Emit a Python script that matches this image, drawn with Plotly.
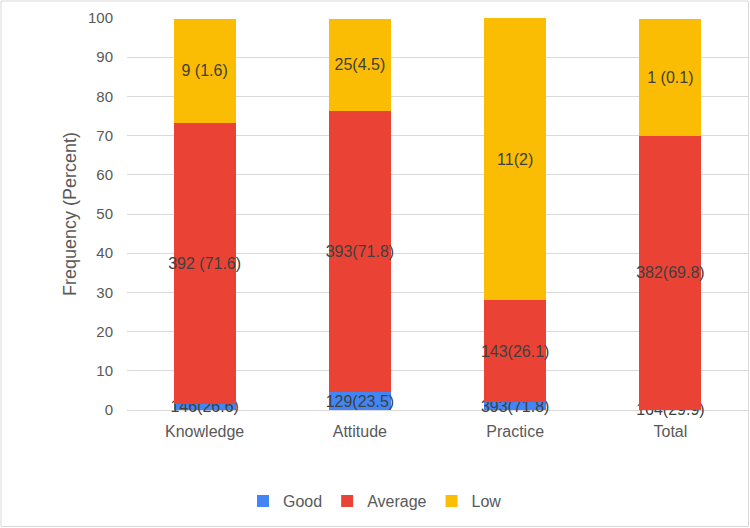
import plotly.graph_objects as go

categories = ["Knowledge", "Attitude", "Practice", "Total"]
good_values = [1.6, 4.5, 2.0, 0.1]
average_values = [71.6, 71.8, 26.1, 69.8]
low_values = [26.6, 23.5, 71.8, 29.9]
good_labels = ["146(26.6)", "129(23.5)", "393(71.8)", "164(29.9)"]
average_labels = ["392 (71.6)", "393(71.8)", "143(26.1)", "382(69.8)"]
low_labels = ["9 (1.6)", "25(4.5)", "11(2)", "1 (0.1)"]
y_ticks = [0, 10, 20, 30, 40, 50, 60, 70, 80, 90, 100]

FONT = "Liberation Sans, Arial, sans-serif"
LABEL_COLOR = "#404040"
AXIS_COLOR = "#595959"
W, H = 750, 528
ML, MR, MT, MB = 127, 2, 18, 118

fig = go.Figure()
for name, vals, labels, color in [
    ("Good", good_values, good_labels, "#4285F4"),
    ("Average", average_values, average_labels, "#EA4335"),
    ("Low", low_values, low_labels, "#FBBC04"),
]:
    fig.add_trace(go.Bar(
        name=name, x=categories, y=vals, text=labels,
        marker=dict(color=color, line=dict(width=0)),
        textposition="inside", insidetextanchor="middle",
        textangle=0, constraintext="none", cliponaxis=False,
        textfont=dict(family=FONT, size=16, color=LABEL_COLOR),
        hoverinfo="skip",
    ))

pw = W - ML - MR
ph = H - MT - MB
fig.add_shape(type="rect", xref="paper", yref="paper",
              x0=(1 - ML) / pw, x1=(W - 1.5 - ML) / pw,
              y0=-(MB - 1.5) / ph, y1=1 + (MT - 1) / ph,
              line=dict(color="#d9d9d9", width=1), layer="below")

fig.update_layout(
    width=W, height=H,
    margin=dict(l=ML, r=MR, t=MT, b=MB),
    barmode="stack", bargap=0.6,
    paper_bgcolor="white", plot_bgcolor="white",
    font=dict(family=FONT, size=15, color=AXIS_COLOR),
    showlegend=True,
    legend=dict(orientation="h", xref="container", yref="container",
                x=0.5, xanchor="center", y=0.051, yanchor="middle",
                font=dict(family=FONT, size=16, color=AXIS_COLOR),
                traceorder="normal", itemwidth=30),
    xaxis=dict(showgrid=False, showline=False, ticks="",
               ticklabelstandoff=10,
               tickfont=dict(family=FONT, size=16, color=AXIS_COLOR)),
    yaxis=dict(range=[0, 100], tickvals=y_ticks, showgrid=True,
               gridcolor="#d9d9d9", gridwidth=1, zeroline=True,
               zerolinecolor="#d9d9d9", zerolinewidth=1, showline=False,
               ticks="", ticklabelstandoff=13,
               tickfont=dict(family=FONT, size=15, color=AXIS_COLOR),
               title=dict(text="Frequency (Percent)", standoff=6,
                          font=dict(family=FONT, size=18, color=AXIS_COLOR))),
)

fig.write_html("out.html")
